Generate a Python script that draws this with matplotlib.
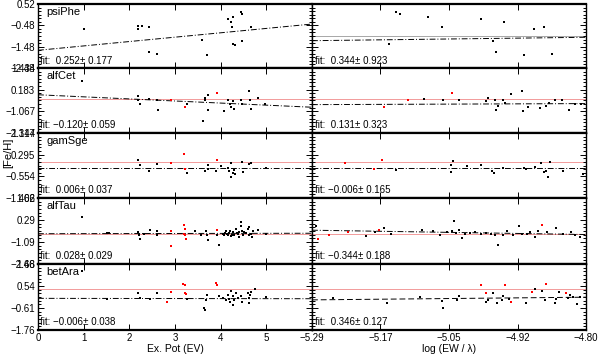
import numpy as np
import matplotlib
matplotlib.use("Agg")
import matplotlib.pyplot as plt
from matplotlib.ticker import AutoMinorLocator

plt.rcParams['font.family'] = ['Liberation Sans', 'DejaVu Sans']

stars = ['psiPhe', 'alfCet', 'gamSge', 'alfTau', 'betAra']

# y-axis ranges (bottom, top) and tick labels, as printed
y_lo = [-2.48, -2.317, -1.402, -2.46, -1.76]
y_hi = [0.52, 1.434, 1.144, 1.66, 1.68]
y_labels = [
    ['-2.48', '-1.48', '-0.48', '0.52'],
    ['-2.317', '-1.067', '0.183', '1.434'],
    ['-1.402', '-0.554', '0.295', '1.144'],
    ['-2.46', '-1.09', '0.29', '1.66'],
    ['-1.76', '-0.61', '0.54', '1.68'],
]

# fit annotations
fit_ep = ['fit:  0.252\u00b1 0.177', 'fit: \u22120.120\u00b1 0.059', 'fit:  0.006\u00b1 0.037',
          'fit:  0.028\u00b1 0.029', 'fit: \u22120.006\u00b1 0.038']
fit_ew = ['fit:  0.344\u00b1 0.923', 'fit:  0.131\u00b1 0.323', 'fit: \u22120.006\u00b1 0.165',
          'fit: \u22120.344\u00b1 0.188', 'fit:  0.346\u00b1 0.127']

# mean [Fe/H] (red line) and fitted lines (value at left edge, value at right edge)
mean_fe = [None, -0.37, 0.0, -0.56, 0.36]
mean_fe_ew = [-0.98, -0.37, 0.0, -0.56, 0.36]
fit_ep_start = [-1.65, -0.11, -0.24, -0.57, -0.11]
fit_ep_end = [-0.42, -0.83, -0.24, -0.54, -0.13]
fit_ew_start = [-1.20, -0.68, -0.24, -0.35, -0.19]
fit_ew_end = [-1.04, -0.62, -0.24, -0.62, -0.05]

# ---- psiPhe ----
ep_psiPhe = [1.01, 2.19, 2.19, 2.28, 2.44, 2.43, 2.60, 3.59, 3.70, 4.17, 4.23, 4.28, 4.24,
             4.45, 4.46, 4.28, 4.32, 4.47, 4.67]
fe_ep_psiPhe = [-0.65, -0.50, -0.65, -0.50, -0.55, -1.75, -1.84, -1.17, -1.89, -0.18, -0.33,
                -0.10, -0.55, 0.16, 0.04, -1.37, -1.40, -1.22, -0.57]
red_ep_psiPhe = [0] * 19
ew_psiPhe = [-5.139, -5.133, -5.082, -5.058, -5.152, -4.988, -4.946, -4.893, -4.875, -4.967,
             -4.961, -4.910, -4.861]
fe_ew_psiPhe = [0.16, 0.04, -0.10, -0.57, -1.36, -0.18, -0.33, -0.65, -0.55, -1.20, -1.75,
                -1.89, -1.84]
red_ew_psiPhe = [0] * 13

# ---- alfCet ----
ep_alfCet = [0.96, 2.20, 2.20, 2.23, 2.44, 2.61, 2.63, 2.92, 3.22, 3.27, 3.61, 3.65, 3.66, 3.72,
             3.72, 3.92, 4.08, 4.16, 4.21, 4.22, 4.27, 4.30, 4.45, 4.46, 4.63, 4.64, 4.67, 4.82,
             4.96]
fe_ep_alfCet = [0.66, -0.17, -0.41, -0.67, -0.33, -0.41, -0.99, -0.41, -0.79, -0.63, -1.60,
                -0.41, -0.31, -0.99, -0.13, -0.01, -1.07, -0.41, -0.67, -0.83, -0.47, -0.91,
                -0.41, -0.63, 0.12, -0.41, -0.91, -0.31, -0.63]
red_ep_alfCet = [0, 0, 0, 0, 0, 0, 0, 1, 1, 0, 0, 0, 0, 0, 0, 1, 0, 0, 0, 0, 0, 0, 0, 0, 0, 0,
                 0, 0, 0]
ew_alfCet = [-5.161, -5.119, -5.090, -5.055, -5.039, -5.028, -4.978, -4.975, -4.962, -4.961,
             -4.957, -4.948, -4.944, -4.934, -4.914, -4.913, -4.904, -4.882, -4.872, -4.866,
             -4.856, -4.843, -4.830, -4.820, -4.809]
fe_ew_alfCet = [-0.79, -0.40, -0.33, -0.43, -0.01, -0.41, -0.47, -0.31, -0.41, -0.97, -0.77,
                -0.41, -0.61, -0.07, 0.12, -1.07, -0.79, -0.87, -0.77, -0.61, -0.41, -0.40,
                -0.97, -0.63, -0.67]
red_ew_alfCet = [1, 1, 0, 0, 1, 0, 0, 0, 0, 0, 0, 0, 0, 0, 0, 0, 0, 0, 0, 0, 0, 0, 0, 0, 0]

# ---- gamSge ----
ep_gamSge = [2.20, 2.23, 2.42, 2.61, 2.92, 3.20, 3.22, 3.26, 3.66, 3.72, 3.73, 3.92, 3.90, 4.01,
             4.16, 4.19, 4.23, 4.23, 4.27, 4.30, 4.32, 4.46, 4.48, 4.63, 4.67, 5.00]
fe_ep_gamSge = [0.07, -0.10, -0.36, -0.06, -0.04, 0.33, -0.26, -0.44, -0.33, -0.10, -0.26,
                0.10, -0.36, -0.16, -0.24, -0.33, -0.04, -0.57, -0.44, -0.29, -0.46, 0.0,
                -0.40, -0.06, -0.04, -0.22]
red_ep_gamSge = [0, 0, 0, 0, 1, 1, 1, 0, 0, 0, 0, 1, 0, 0, 0, 0, 0, 0, 0, 0, 0, 0, 0, 0, 0, 0]
ew_gamSge = [-5.231, -5.180, -5.164, -5.140, -5.042, -5.042, -5.037, -5.012, -4.988, -4.968,
             -4.965, -4.948, -4.911, -4.907, -4.891, -4.881, -4.875, -4.871, -4.868, -4.864,
             -4.842, -4.806]
fe_ew_gamSge = [-0.04, -0.26, 0.10, -0.29, -0.10, -0.37, 0.03, -0.13, -0.09, -0.36, -0.44,
                -0.24, -0.24, -0.26, -0.19, -0.04, -0.40, -0.33, -0.57, -0.01, -0.33, -0.46]
red_ew_gamSge = [1, 1, 1, 0, 0, 0, 0, 0, 0, 0, 0, 0, 0, 0, 0, 0, 0, 0, 0, 0, 0, 0]

# ---- alfTau ----
ep_alfTau = [0.96, 1.50, 1.55, 2.20, 2.21, 2.23, 2.32, 2.45, 2.61, 2.61, 2.91, 2.92, 3.20, 3.21,
             3.22, 3.24, 3.19, 3.44, 3.57, 3.68, 3.70, 3.72, 3.92, 3.93, 3.97, 4.05, 4.08, 4.12,
             4.16, 4.19, 4.23, 4.27, 4.30, 4.34, 4.38, 4.41, 4.45, 4.45, 4.46, 4.49, 4.52, 4.60,
             4.61, 4.63, 4.67, 4.68, 4.82, 5.00, 4.10, 4.14, 4.20, 4.25, 4.36, 4.40, 4.56, 4.70]
fe_ep_alfTau = [0.48, -0.54, -0.54, -0.47, -0.68, -0.89, -0.57, -0.32, -0.68, -0.37, -0.37,
                -1.31, -0.05, -0.26, -0.68, -0.89, -0.57, -0.37, -0.68, -0.37, -0.62, -0.95,
                -0.32, -0.68, -1.25, -0.57, -0.68, -0.37, -0.68, -0.54, -0.74, -0.47, -0.68,
                -0.26, -0.57, -0.78, 0.16, -0.11, -0.37, -0.68, -0.47, -0.26, -0.68, -0.16,
                -0.57, -0.78, -0.32, -0.57, -0.52, -0.60, -0.42, -0.62, -0.50, -0.45, -0.55,
                -0.40]
red_ep_alfTau = [0, 0, 0, 0, 0, 0, 0, 0, 0, 0, 1, 1, 1, 1, 1, 1, 1, 0, 0, 0, 0, 0, 1, 0, 0, 0,
                 0, 0, 0, 0, 0, 0, 0, 0, 0, 0, 0, 0, 0, 0, 0, 0, 0, 0, 0, 0, 0, 0, 0, 0, 0, 0,
                 0, 0, 0, 0]
ew_alfTau = [-5.283, -5.279, -5.259, -5.225, -5.194, -5.177, -5.171, -5.162, -5.149, -5.094,
             -5.073, -5.061, -5.049, -5.040, -5.036, -5.027, -5.022, -5.007, -4.998, -4.987,
             -4.969, -4.957, -4.948, -4.941, -4.930, -4.919, -4.915, -4.900, -4.891, -4.885,
             -4.879, -4.870, -4.854, -4.842, -4.826, -4.820, -4.811, -5.033, -5.016, -4.978,
             -4.962, -4.905]
fe_ew_alfTau = [-0.11, -0.89, -0.68, -0.47, -0.74, -0.47, -0.32, -0.22, -0.57, -0.32, -0.37,
                -0.68, -0.47, -0.40, 0.20, -0.32, -0.83, -0.51, -0.47, -0.57, -0.57, -1.25,
                -0.68, -0.40, -0.68, -0.11, -0.57, -0.47, -0.78, -0.37, 0.0, -0.47, -0.19,
                -0.57, -0.47, -0.68, -0.78, -0.55, -0.60, -0.52, -0.62, -0.58]
red_ew_alfTau = [0, 1, 1, 1, 0, 0, 1, 0, 0, 0, 0, 0, 0, 0, 0, 0, 0, 0, 0, 0, 0, 0, 0, 0, 0, 0,
                 0, 0, 0, 0, 1, 0, 0, 0, 0, 0, 0, 0, 0, 0, 0, 0]

# ---- betAra ----
ep_betAra = [0.96, 1.50, 2.20, 2.23, 2.45, 2.61, 2.82, 2.91, 3.17, 3.22, 3.22, 3.24, 3.27, 3.64,
             3.65, 3.70, 3.68, 3.90, 3.92, 3.97, 4.05, 4.12, 4.16, 4.19, 4.21, 4.23, 4.27, 4.28,
             4.30, 4.34, 4.39, 4.45, 4.46, 4.60, 4.61, 4.63, 4.65, 4.67, 4.76, 5.00]
fe_ep_betAra = [1.33, -0.16, 0.19, -0.11, -0.16, 0.19, -0.28, 0.21, 0.64, 0.59, 0.19, 0.12,
                -0.16, -0.63, -0.72, 0.07, -0.19, 0.71, 0.59, 0.0, -0.11, -0.19, 0.07, -0.16,
                -0.28, 0.29, 0.0, -0.46, -0.19, 0.16, -0.11, 0.01, -0.28, 0.19, -0.11, -0.37,
                0.07, 0.24, 0.36, -0.05]
red_ep_betAra = [0, 0, 0, 0, 0, 0, 1, 1, 1, 1, 1, 1, 0, 0, 0, 0, 0, 1, 1, 0, 0, 0, 0, 0, 0, 0,
                 0, 0, 0, 0, 0, 0, 0, 0, 0, 0, 0, 0, 0, 0]
ew_betAra = [-5.253, -5.155, -5.097, -5.058, -5.055, -5.031, -5.027, -4.988, -4.978, -4.979,
             -4.975, -4.967, -4.960, -4.951, -4.948, -4.945, -4.937, -4.935, -4.907, -4.896,
             -4.891, -4.879, -4.873, -4.872, -4.856, -4.854, -4.848, -4.835, -4.832, -4.829,
             -4.823, -4.816, -4.811]
fe_ew_betAra = [-0.11, -0.37, -0.05, -0.25, -0.60, -0.19, 0.01, 0.59, 0.16, -0.28, -0.19, 0.19,
                -0.33, -0.22, 0.01, 0.59, -0.16, -0.28, -0.33, 0.24, 0.36, 0.29, -0.22, 0.62,
                -0.37, -0.16, 0.24, 0.19, -0.11, 0.07, -0.05, -0.40, -0.05]
red_ew_betAra = [0, 0, 0, 0, 0, 0, 0, 1, 1, 0, 0, 0, 0, 0, 0, 1, 0, 1, 0, 1, 0, 0, 0, 1, 0, 0,
                 0, 1, 0, 0, 0, 0, 0]

ep_data = [(ep_psiPhe, fe_ep_psiPhe, red_ep_psiPhe), (ep_alfCet, fe_ep_alfCet, red_ep_alfCet),
           (ep_gamSge, fe_ep_gamSge, red_ep_gamSge), (ep_alfTau, fe_ep_alfTau, red_ep_alfTau),
           (ep_betAra, fe_ep_betAra, red_ep_betAra)]
ew_data = [(ew_psiPhe, fe_ew_psiPhe, red_ew_psiPhe), (ew_alfCet, fe_ew_alfCet, red_ew_alfCet),
           (ew_gamSge, fe_ew_gamSge, red_ew_gamSge), (ew_alfTau, fe_ew_alfTau, red_ew_alfTau),
           (ew_betAra, fe_ew_betAra, red_ew_betAra)]

ep_range = (0, 6)
ew_range = (-5.29, -4.80)
ew_ticks = [-5.29, -5.17, -5.05, -4.92, -4.80]

W, H = 600, 358
fig = plt.figure(figsize=(6.0, 3.58), dpi=100)

row_edges = [4, 68, 133, 198, 264, 330]
x_left, x_mid, x_right = 38, 312, 586
red_line = '#f08a8a'


def style_axis(ax, lo, hi):
    ax.set_ylim(lo, hi)
    ax.set_yticks(np.linspace(lo, hi, 4))
    ax.yaxis.set_minor_locator(AutoMinorLocator(6))
    ax.tick_params(which='both', direction='in', top=True, right=True, labelsize=7,
                   width=0.7, pad=2)
    ax.tick_params(which='major', length=4)
    ax.tick_params(which='minor', length=2)
    for s in ['top', 'bottom']:
        ax.spines[s].set_linewidth(1.6)
    for s in ['left', 'right']:
        ax.spines[s].set_linewidth(1.0)


for i, star in enumerate(stars):
    top, bot = row_edges[i], row_edges[i + 1]
    lo, hi = y_lo[i], y_hi[i]
    y0 = 1 - bot / H
    h = (bot - top) / H
    last = i == len(stars) - 1

    # left: excitation potential
    ax = fig.add_axes([x_left / W, y0, (x_mid - x_left) / W, h])
    xs, ys, rf = ep_data[i]
    xs, ys, rf = np.array(xs), np.array(ys), np.array(rf, dtype=bool)
    if mean_fe[i] is not None:
        ax.axhline(mean_fe[i], color=red_line, lw=0.6, zorder=1)
    ax.plot(ep_range, [fit_ep_start[i], fit_ep_end[i]], color='k', lw=0.7,
            ls=(0, (6, 2, 1, 2)), zorder=2)
    ax.plot(xs[~rf], ys[~rf], 's', color='k', ms=1.7, mew=0, zorder=3)
    ax.plot(xs[rf], ys[rf], 's', color='red', ms=1.7, mew=0, zorder=3)
    ax.set_xlim(*ep_range)
    ax.set_xticks(range(0, 7))
    style_axis(ax, lo, hi)
    ax.set_yticklabels([s.replace('-', '\u2212') for s in y_labels[i]])
    if last:
        ax.set_xticklabels(['0', '1', '2', '3', '4', '5', ''])
        ax.set_xlabel('Ex. Pot (EV)', fontsize=7.5, labelpad=1)
    else:
        ax.set_xticklabels([])
    ax.text(0.03, 0.83, star, transform=ax.transAxes, fontsize=8)
    ax.text(0.008, 0.07, fit_ep[i], transform=ax.transAxes, fontsize=7)

    # right: reduced equivalent width
    ax2 = fig.add_axes([x_mid / W, y0, (x_right - x_mid) / W, h])
    xs, ys, rf = ew_data[i]
    xs, ys, rf = np.array(xs), np.array(ys), np.array(rf, dtype=bool)
    ax2.axhline(mean_fe_ew[i], color=red_line if i > 0 else '#999999', lw=0.6, zorder=1)
    ls = (0, (6, 3)) if last else (0, (6, 2, 1, 2))
    ax2.plot(ew_range, [fit_ew_start[i], fit_ew_end[i]], color='k', lw=0.7, ls=ls, zorder=2)
    ax2.plot(xs[~rf], ys[~rf], 's', color='k', ms=1.7, mew=0, zorder=3)
    ax2.plot(xs[rf], ys[rf], 's', color='red', ms=1.7, mew=0, zorder=3)
    ax2.set_xlim(*ew_range)
    ax2.set_xticks(np.linspace(ew_range[0], ew_range[1], 5))
    style_axis(ax2, lo, hi)
    ax2.set_yticklabels([])
    if last:
        ax2.set_xticklabels([f'{t:.2f}'.replace('-', '\u2212') for t in ew_ticks])
        ax2.set_xlabel('log (EW / \u03bb)', fontsize=7.5, labelpad=1)
    else:
        ax2.set_xticklabels([])
    ax2.text(0.01, 0.07, fit_ew[i], transform=ax2.transAxes, fontsize=7)

fig.text(8 / W, 1 - 153 / H, '[Fe/H]', rotation=90, fontsize=8, ha='center', va='center')

fig.savefig('out.png', dpi=100)
